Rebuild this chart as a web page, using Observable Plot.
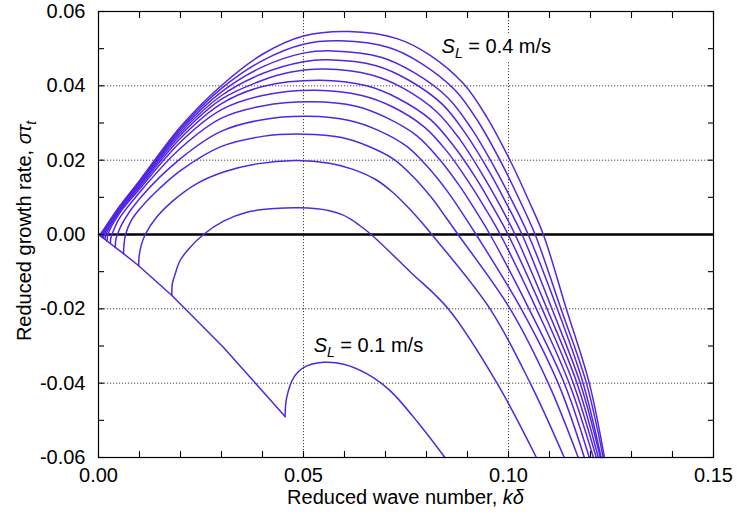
<!DOCTYPE html>
<html><head><meta charset="utf-8">
<script src="https://cdn.jsdelivr.net/npm/d3@7"></script>
<script src="https://cdn.jsdelivr.net/npm/@observablehq/plot@0.6"></script>
<style>
body{margin:0;background:#fff}
</style>
</head><body><div id="chart"></div>
<script>
// Laminar flame speeds S_L (m/s), one curve each
const speeds = [0.1, 0.125, 0.15, 0.175, 0.2, 0.225, 0.25, 0.275, 0.3, 0.325, 0.35, 0.375, 0.4];

// common decaying branch from the origin (k delta, sigma tau_t)
const decayBranch = [[0,0],[0.0057,-0.0048],[0.0098,-0.0084],[0.0179,-0.0164],[0.0224,-0.0214],[0.0305,-0.0304],[0.0378,-0.0394],[0.0455,-0.049]];

const c100 = [[0.0455,-0.049],[0.0459,-0.0439],[0.0476,-0.0385],[0.05,-0.0358],[0.0549,-0.0344],[0.0598,-0.0349],[0.0655,-0.0375],[0.0711,-0.042],[0.078,-0.0507],[0.0845,-0.06]];
const c125 = [[0.0179,-0.0164],[0.018,-0.0133],[0.0187,-0.0106],[0.0199,-0.007],[0.022,-0.0039],[0.0256,0],[0.0305,0.0036],[0.0362,0.006],[0.043,0.007],[0.049,0.0072],[0.0533,0.0069],[0.0563,0.0064],[0.0593,0.0054],[0.0614,0.0042],[0.0635,0.0026],[0.0665,0],[0.076,-0.01],[0.0853,-0.02],[0.0972,-0.04],[0.1068,-0.06]];
const c150 = [[0.0098,-0.0084],[0.0099,-0.006],[0.0104,-0.003],[0.0114,0],[0.0142,0.0047],[0.0183,0.0092],[0.024,0.0137],[0.0305,0.0168],[0.0386,0.019],[0.048,0.0199],[0.0563,0.0192],[0.0619,0.0176],[0.0676,0.0148],[0.0716,0.0115],[0.0756,0.0072],[0.0788,0.0033],[0.0813,0],[0.0955,-0.02],[0.1053,-0.04],[0.1136,-0.06]];
const c175 = [[0.0061,-0.0052],[0.0062,-0.003],[0.0066,0],[0.008,0.0038],[0.01,0.0068],[0.015,0.0125],[0.02,0.0172],[0.03,0.0237],[0.04,0.0264],[0.05,0.027],[0.0593,0.0261],[0.0657,0.0238],[0.0722,0.0201],[0.0767,0.0156],[0.0813,0.0098],[0.0848,0.0045],[0.0877,0],[0.1004,-0.02],[0.1097,-0.04],[0.117,-0.06]];
const c200 = [[0.0041,-0.0035],[0.0042,-0.0015],[0.0046,0],[0.006,0.0034],[0.01,0.0096],[0.02,0.0204],[0.03,0.0278],[0.04,0.0309],[0.051,0.0318],[0.0612,0.0307],[0.0681,0.0281],[0.0752,0.0237],[0.0801,0.0184],[0.0851,0.0116],[0.089,0.0053],[0.0921,0],[0.1031,-0.02],[0.1121,-0.04],[0.1185,-0.06]];
const c225 = [[0.0029,-0.0024],[0.003,-0.001],[0.0033,0],[0.005,0.0042],[0.01,0.0113],[0.02,0.0232],[0.03,0.0313],[0.04,0.0346],[0.052,0.0357],[0.0628,0.0345],[0.0701,0.0315],[0.0776,0.0266],[0.0828,0.0207],[0.0881,0.013],[0.0922,0.006],[0.0955,0],[0.105,-0.02],[0.1136,-0.04],[0.1197,-0.06]];
const c250 = [[0.0021,-0.0018],[0.0023,0],[0.005,0.0055],[0.01,0.0122],[0.02,0.0249],[0.03,0.0336],[0.04,0.0374],[0.053,0.0388],[0.0642,0.0374],[0.0718,0.0343],[0.0795,0.0289],[0.0849,0.0225],[0.0903,0.0141],[0.0946,0.0065],[0.098,0],[0.1068,-0.02],[0.1148,-0.04],[0.1207,-0.06]];
const c275 = [[0.0016,-0.0013],[0.0018,0],[0.005,0.006],[0.01,0.0128],[0.02,0.0259],[0.03,0.0352],[0.04,0.0398],[0.054,0.0415],[0.0654,0.04],[0.0731,0.0366],[0.081,0.0309],[0.0865,0.024],[0.0921,0.0151],[0.0964,0.007],[0.0999,0],[0.1082,-0.02],[0.1158,-0.04],[0.1214,-0.06]];
const c300 = [[0.0012,-0.001],[0.0014,0],[0.005,0.0064],[0.01,0.0133],[0.02,0.0267],[0.03,0.0364],[0.04,0.0415],[0.047,0.0437],[0.055,0.0445],[0.0666,0.0429],[0.0744,0.0393],[0.0824,0.0331],[0.088,0.0258],[0.0936,0.0162],[0.0981,0.0075],[0.1016,0],[0.1094,-0.02],[0.1167,-0.04],[0.1219,-0.06]];
const c325 = [[0.0009,-0.0008],[0.0011,0],[0.005,0.0067],[0.01,0.0137],[0.02,0.0274],[0.03,0.0374],[0.04,0.0433],[0.05,0.0465],[0.056,0.047],[0.0677,0.0454],[0.0757,0.0415],[0.0839,0.035],[0.0895,0.0272],[0.0952,0.0171],[0.0997,0.0079],[0.1033,0],[0.1106,-0.02],[0.1175,-0.04],[0.1224,-0.06]];
const c350 = [[0.0006,-0.0005],[0.0008,0],[0.005,0.007],[0.01,0.014],[0.02,0.028],[0.03,0.0384],[0.04,0.0451],[0.05,0.0488],[0.057,0.0494],[0.0689,0.0477],[0.0769,0.0436],[0.0852,0.0368],[0.0909,0.0286],[0.0966,0.018],[0.1012,0.0083],[0.1048,0],[0.1119,-0.02],[0.1182,-0.04],[0.1226,-0.06]];
const c375 = [[0.0004,-0.0003],[0.0006,0],[0.005,0.0072],[0.01,0.0143],[0.02,0.0285],[0.03,0.0393],[0.04,0.0468],[0.05,0.0512],[0.059,0.0521],[0.0708,0.0503],[0.0788,0.046],[0.087,0.0388],[0.0927,0.0302],[0.0984,0.019],[0.1029,0.0088],[0.1065,0],[0.1128,-0.02],[0.119,-0.04],[0.1231,-0.06]];
const c400 = [[0.0002,-0.0002],[0.0004,0],[0.005,0.0074],[0.01,0.0145],[0.02,0.029],[0.03,0.0401],[0.04,0.0485],[0.05,0.0534],[0.061,0.0546],[0.0728,0.0527],[0.0809,0.0482],[0.089,0.0406],[0.0947,0.0316],[0.1004,0.0199],[0.1049,0.0092],[0.1085,0],[0.1141,-0.02],[0.1197,-0.04],[0.1234,-0.06]];

const curves = [c100, c125, c150, c175, c200, c225, c250, c275, c300, c325, c350, c375, c400];

// ticks
const xTicks = d3.range(0, 16).map(i => i / 100);
const xLabels = [0, 0.05, 0.10, 0.15];
const yTicks = d3.range(-6, 7).map(i => i / 100);
const yLabels = [-0.06, -0.04, -0.02, 0, 0.02, 0.04, 0.06];
const xGrid = [0.05, 0.10];
const yGrid = [-0.04, -0.02, 0.02, 0.04];

const rows = curves.flatMap((pts, i) => pts.map(([x, y]) => ({x, y, s: speeds[i]})));
const decayRows = decayBranch.map(([x, y]) => ({x, y}));

const W = 737, H = 519, mL = 98, mR = 24, mT = 11, mB = 62;
const xDom = [0, 0.15], yDom = [-0.06, 0.06];
const blue = "#5226e2";
const fmt = d => (Math.abs(d) < 1e-9 ? 0 : d).toFixed(2);
const noText = () => "";

const chart = Plot.plot({
  width: W, height: H,
  marginLeft: mL, marginRight: mR, marginTop: mT, marginBottom: mB,
  style: {fontFamily: "'Liberation Sans', Arial, Helvetica, sans-serif", fontSize: "20px", color: "black", background: "white"},
  x: {domain: xDom},
  y: {domain: yDom},
  marks: [
    Plot.ruleX(xGrid, {stroke: "#444", strokeWidth: 1, strokeDasharray: "1.2,1.8"}),
    Plot.ruleY(yGrid, {stroke: "#444", strokeWidth: 1, strokeDasharray: "1.2,1.8"}),
    Plot.ruleY([0], {stroke: "black", strokeWidth: 2.6}),
    Plot.line(decayRows, {x: "x", y: "y", stroke: blue, strokeWidth: 1.5}),
    Plot.line(rows, {x: "x", y: "y", z: "s", stroke: blue, strokeWidth: 1.5, curve: "catmull-rom"}),
    Plot.frame({stroke: "black", strokeWidth: 1.2}),
    // inward minor/major ticks on all four sides
    Plot.axisX({ticks: xTicks, tickSize: -6, tickFormat: noText, label: null, strokeWidth: 1.1}),
    Plot.axisX({anchor: "top", ticks: xTicks, tickSize: -6, tickFormat: noText, label: null, strokeWidth: 1.1}),
    Plot.axisY({ticks: yTicks, tickSize: -6, tickFormat: noText, label: null, strokeWidth: 1.1}),
    Plot.axisY({anchor: "right", ticks: yTicks, tickSize: -6, tickFormat: noText, label: null, strokeWidth: 1.1}),
    // tick labels
    Plot.axisX({ticks: xLabels, tickSize: 0, tickPadding: 10, tickFormat: fmt, label: null}),
    Plot.axisY({ticks: yLabels, tickSize: 0, tickPadding: 13, tickFormat: fmt, label: null})
  ]
});
document.getElementById("chart").appendChild(chart);

const sx = chart.scale("x"), sy = chart.scale("y");
const svg = d3.select(chart);
const font = "'Liberation Sans', Arial, Helvetica, sans-serif";

// x axis title
const xt = svg.append("text").attr("x", (sx.apply(0) + sx.apply(0.15)) / 2).attr("y", 504)
  .attr("text-anchor", "middle").attr("font-family", font).attr("font-size", 20).attr("fill", "black");
xt.append("tspan").text("Reduced wave number, ");
xt.append("tspan").attr("font-style", "italic").text("kδ");

// y axis title
const yt = svg.append("text")
  .attr("transform", `translate(31,${(sy.apply(-0.06) + sy.apply(0.06)) / 2 - 3}) rotate(-90)`)
  .attr("text-anchor", "middle").attr("font-family", font).attr("font-size", 20).attr("fill", "black");
yt.append("tspan").text("Reduced growth rate, ");
yt.append("tspan").attr("font-style", "italic").text("στ");
yt.append("tspan").attr("font-style", "italic").attr("font-size", 14).attr("dy", 5).text("t");

// curve annotations
function slLabel(xv, yv, value, box) {
  const g = svg.append("g");
  const t = g.append("text").attr("x", sx.apply(xv)).attr("y", sy.apply(yv)).attr("text-anchor", "start")
    .attr("font-family", font).attr("font-size", 20).attr("fill", "black");
  t.append("tspan").attr("font-style", "italic").text("S");
  t.append("tspan").attr("font-style", "italic").attr("font-size", 14).attr("dy", 5).text("L");
  t.append("tspan").attr("dy", -5).text(" = " + value + " m/s");
  if (box) {
    const b = t.node().getBBox();
    g.insert("rect", "text").attr("x", b.x - 3).attr("y", b.y - 1).attr("width", b.width + 6).attr("height", b.height + 1).attr("fill", "white");
  }
}
slLabel(0.0838, 0.0488, "0.4", true);
slLabel(0.0526, -0.0318, "0.1", false);
</script>
</body></html>
